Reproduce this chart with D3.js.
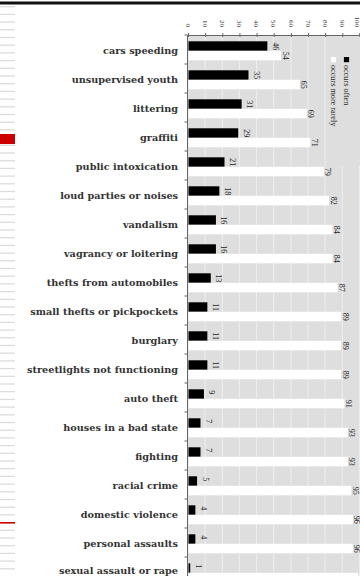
<!DOCTYPE html>
<html>
<head>
<meta charset="utf-8">
<script src="https://cdn.jsdelivr.net/npm/d3@7"></script>
<style>
  html, body { margin: 0; padding: 0; background: #fff; }
  svg { display: block; }
</style>
</head>
<body>
<svg id="chart" width="360" height="576"></svg>
<script>
// Neighbourhood problems: share of respondents saying each occurs often vs. more rarely (%)
const categories = [
  "cars speeding", "unsupervised youth", "littering", "graffiti",
  "public intoxication", "loud parties or noises", "vandalism",
  "vagrancy or loitering", "thefts from automobiles",
  "small thefts or pickpockets", "burglary", "streetlights not functioning",
  "auto theft", "houses in a bad state", "fighting", "racial crime",
  "domestic violence", "personal assaults", "sexual assault or rape"
];
const occursOften = [46, 35, 31, 29, 21, 18, 16, 16, 13, 11, 11, 11, 9, 7, 7, 5, 4, 4, 1];
const occursRarely = [54, 65, 69, 71, 79, 82, 84, 84, 87, 89, 89, 89, 91, 93, 93, 95, 96, 96, 99];
const seriesNames = ["occurs often", "occurs more rarely"];
const tickValues = [0, 10, 20, 30, 40, 50, 60, 70, 80, 90, 100];

const W = 360, H = 576;
const svg = d3.select("#chart");
const serif = "'Liberation Serif', 'DejaVu Serif', serif";
const heavySerif = "'DejaVu Serif', 'Liberation Serif', serif";

// page chrome: top rule and the striped margin on the left
svg.append("rect").attr("x", 0).attr("y", 1.5).attr("width", W).attr("height", 3).attr("fill", "#111");
const stripes = d3.range(6.7, H, 7.7);
svg.append("g").selectAll("line").data(stripes).join("line")
  .attr("x1", 0).attr("x2", 15).attr("y1", d => d).attr("y2", d => d)
  .attr("stroke", "#dcdcdc").attr("stroke-width", 1.3);
svg.append("rect").attr("x", 0).attr("y", 134).attr("width", 15).attr("height", 10).attr("fill", "#cc0000");
svg.append("rect").attr("x", 0).attr("y", 522).attr("width", 15).attr("height", 1.6).attr("fill", "#cc0000");

// scales
const x = d3.scaleLinear().domain([0, 100]).range([188, 359.4]);
const y = d3.scaleBand().domain(categories).range([35, 35 + 29.0 * categories.length]);
const sub = d3.scaleBand().domain(seriesNames).range([6.3, 25.3]);

const rows = categories.map((c, i) => ({ cat: c, values: [occursOften[i], occursRarely[i]] }));

// plot background and vertical gridlines
const plot = svg.append("g");
plot.append("rect").attr("x", x(0)).attr("y", 35).attr("width", x(100) - x(0) + 2).attr("height", H - 35)
  .attr("fill", "#dedede");
plot.append("g").selectAll("line").data(tickValues.slice(1)).join("line")
  .attr("x1", d => x(d)).attr("x2", d => x(d)).attr("y1", 35).attr("y2", H)
  .attr("stroke", "#eeeeee").attr("stroke-width", 1);

// legend panel
const lg = svg.append("g");
lg.append("rect").attr("x", 329).attr("y", 36).attr("width", 31).attr("height", 130).attr("fill", "#dedede");
const legendX = [346.5, 333.5];
seriesNames.forEach((s, i) => {
  lg.append("rect").attr("x", legendX[i] - 2.6).attr("y", 57).attr("width", 5.2).attr("height", 5.2)
    .attr("fill", i === 0 ? "#000" : "#fff");
  lg.append("text").attr("transform", `translate(${legendX[i] - 2.6},65) rotate(90)`)
    .attr("font-family", serif).attr("font-size", 8.2).attr("fill", "#222")
    .text(s);
});

// bars
const groups = svg.append("g").selectAll("g").data(rows).join("g")
  .attr("transform", d => `translate(0,${y(d.cat)})`);
groups.selectAll("rect").data(d => d.values.map((v, k) => ({ v, k }))).join("rect")
  .attr("x", x(0) + 0.5)
  .attr("y", d => sub(seriesNames[d.k]))
  .attr("width", d => x(d.v) - x(0))
  .attr("height", sub.bandwidth())
  .attr("fill", d => d.k === 0 ? "#000" : "#fff");

// value labels, rotated; only those that start inside the page, kept inside the right edge
groups.selectAll("text")
  .data(d => d.values.map((v, k) => ({ v, k, top: y(d.cat) + sub(seriesNames[k]) + 1 }))
    .filter(e => e.top < H - 8))
  .join("text")
  .attr("transform", d => {
    const lx = Math.min(x(d.v) + (d.k === 0 ? 6 : 2), 353.8);
    return `translate(${lx},${sub(seriesNames[d.k]) + 1}) rotate(90)`;
  })
  .attr("font-family", serif).attr("font-size", 8).attr("fill", "#222")
  .text(d => d.v);

// x axis along the top
const xAxis = svg.append("g").attr("transform", "translate(0,35)")
  .call(d3.axisTop(x).tickValues(tickValues).tickSize(2).tickFormat(""));
xAxis.select(".domain").attr("stroke", "#666");
xAxis.selectAll(".tick line").attr("stroke", "#666").attr("y2", 2).attr("y1", -2);
svg.append("g").selectAll("text").data(tickValues).join("text")
  .attr("transform", d => `translate(${Math.min(x(d) - 2.3, 355)},27) rotate(90)`)
  .attr("text-anchor", "end")
  .attr("font-family", serif).attr("font-size", 7).attr("fill", "#333")
  .text(d => d);

// y axis with ticks on the band boundaries
const yAxis = svg.append("g");
yAxis.append("line").attr("x1", 187.5).attr("x2", 187.5).attr("y1", 35).attr("y2", H)
  .attr("stroke", "#666").attr("stroke-width", 1);
yAxis.selectAll(".bt").data(categories).join("line").attr("class", "bt")
  .attr("x1", 184.5).attr("x2", 187.5).attr("y1", d => y(d)).attr("y2", d => y(d))
  .attr("stroke", "#666");

// category labels
svg.append("g").selectAll("text").data(categories).join("text")
  .attr("x", 178).attr("y", d => Math.min(y(d) + y.bandwidth() / 2 + 1, 570.5))
  .attr("text-anchor", "end").attr("dominant-baseline", "central")
  .attr("font-family", heavySerif).attr("font-weight", "bold").attr("font-size", 9.7)
  .attr("fill", "#333")
  .text(d => d);
</script>
</body>
</html>
